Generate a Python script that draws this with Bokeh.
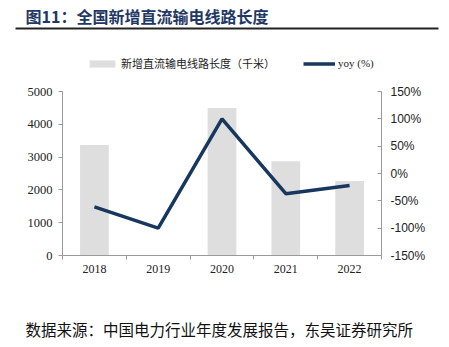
from bokeh.plotting import figure
from bokeh.models import (Range1d, LinearAxis, FixedTicker, PrintfTickFormatter, Label,
                          BoxAnnotation, Legend, LegendItem, ColumnDataSource)
from bokeh.embed import file_html
from bokeh.resources import INLINE

years = ["2018", "2019", "2020", "2021", "2022"]
length_km = [3370, 0, 4500, 2870, 2270]
yoy_pct = [-61, -100, 100, -37, -22]
left_ticks = [0, 1000, 2000, 3000, 4000, 5000]
right_ticks = [-150, -100, -50, 0, 50, 100, 150]
LMAX = 5000
YMIN, YMAX = -150, 150

W, H = 449, 347
# chart area inside the canvas (px from top-left)
PL, PR, PT, PB = 62, 381, 91, 255

n = len(years)
ux = (PR - PL) / n
uy = (PB - PT) / LMAX
uyy = (PB - PT) / (YMAX - YMIN)

p = figure(width=W, height=H, output_backend="svg", toolbar_location=None,
           x_range=Range1d(-PL / ux, n + (W - PR) / ux),
           y_range=Range1d(-(H - PB) / uy, LMAX + PT / uy),
           x_axis_location=None, y_axis_location=None,
           min_border=0, min_border_left=0, min_border_right=0,
           min_border_top=0, min_border_bottom=0)
p.extra_y_ranges = {"yoy": Range1d(YMIN - (H - PB) / uyy, YMAX + PT / uyy)}
p.outline_line_color = None
p.grid.visible = False

x = [i + 0.5 for i in range(n)]
src = ColumnDataSource(dict(x=x, length=length_km, yoy=yoy_pct))

bars = p.vbar(x="x", top="length", width=0.45, source=src, fill_color="#dedede",
              line_color=None)
line = p.line(x="x", y="yoy", y_range_name="yoy", source=src, line_color="#17375e",
              line_width=3.5)

axis_col = "#9a9a9a"
serif = "Liberation Serif"

xa = LinearAxis(fixed_location=0, bounds=(0, n),
                ticker=FixedTicker(ticks=x, minor_ticks=list(range(n + 1))))
xa.major_label_overrides = {xi: y for xi, y in zip(x, years)}
xa.major_tick_out = 0
xa.major_tick_in = 0
xa.minor_tick_out = 4
xa.minor_tick_in = 0
xa.minor_tick_line_color = axis_col
xa.axis_line_color = axis_col
xa.major_label_text_font = serif
xa.major_label_text_font_size = "12px"
xa.major_label_text_color = "#222222"
xa.major_label_standoff = 5
p.add_layout(xa, "below")

ya = LinearAxis(fixed_location=0, bounds=(0, LMAX), ticker=FixedTicker(ticks=left_ticks))
ya.major_tick_out = 4
ya.major_tick_in = 0
ya.minor_tick_line_color = None
ya.axis_line_color = axis_col
ya.major_tick_line_color = axis_col
ya.major_label_text_font = serif
ya.major_label_text_font_size = "12.5px"
ya.major_label_text_color = "#222222"
ya.major_label_standoff = 6
p.add_layout(ya, "left")

ra = LinearAxis(y_range_name="yoy", fixed_location=n, bounds=(YMIN, YMAX),
                ticker=FixedTicker(ticks=right_ticks),
                formatter=PrintfTickFormatter(format="%d%%"))
ra.major_tick_out = 0
ra.major_tick_in = 4
ra.minor_tick_line_color = None
ra.axis_line_color = axis_col
ra.major_tick_line_color = axis_col
ra.major_label_text_font = "Liberation Sans"
ra.major_label_text_font_size = "12px"
ra.major_label_text_color = "#222222"
ra.major_label_standoff = 9
p.add_layout(ra, "right")

legend = Legend(items=[LegendItem(label="新增直流输电线路长度（千米）", renderers=[bars]),
                       LegendItem(label="yoy (%)", renderers=[line])],
                location=(86, H - 71), orientation="horizontal",
                glyph_width=32, glyph_height=9, label_standoff=3, spacing=28,
                padding=0, margin=0, border_line_color=None,
                background_fill_alpha=0,
                label_text_font="Liberation Serif, Noto Sans CJK SC",
                label_text_font_size="11px", label_text_color="#222222")
p.add_layout(legend)

# title
p.add_layout(Label(x=25, y=H - 15, x_units="screen", y_units="screen",
                   text="图11：全国新增直流输电线路长度", text_font="Noto Sans CJK SC",
                   text_font_style="bold", text_font_size="16px",
                   text_color="#1f3864", text_baseline="middle"))
# title rule
p.add_layout(BoxAnnotation(left=15, right=438, top=H - 27, bottom=H - 29,
                           left_units="screen", right_units="screen",
                           bottom_units="screen", top_units="screen",
                           fill_color="#222222", fill_alpha=1, line_color=None))
# source
p.add_layout(Label(x=25, y=H - 328, x_units="screen", y_units="screen",
                   text="数据来源：中国电力行业年度发展报告，东吴证券研究所",
                   text_font="Noto Sans CJK SC", text_font_size="15.5px",
                   text_color="#111111", text_baseline="middle"))

open("out.html", "w").write(file_html(p, INLINE))
